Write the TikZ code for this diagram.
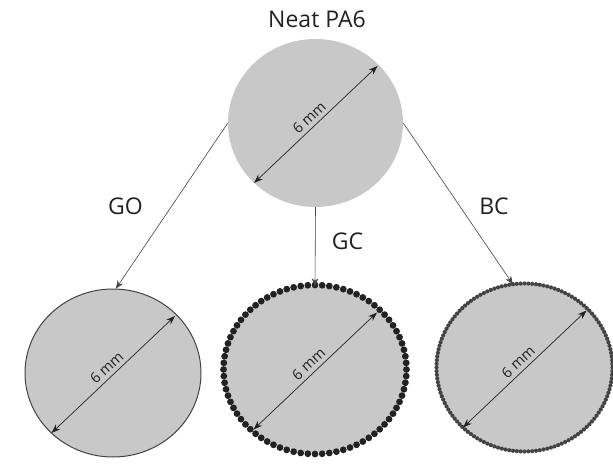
\documentclass[tikz,border=0pt]{standalone}
\usepackage{fontspec}
\setmainfont{Open Sans}
\usetikzlibrary{arrows.meta,calc,shapes.geometric}
\definecolor{fillg}{HTML}{C8C8C8}
\definecolor{txt}{HTML}{222222}
\begin{document}
\begin{tikzpicture}[x=1pt,y=1pt,
  disc/.style={ellipse,fill=fillg,inner sep=0pt},
  conn/.style={draw=txt!85,line width=0.6pt,-{Stealth[length=8pt,width=6.5pt]}},
  dim/.style={draw=txt,line width=0.7pt,{Stealth[length=9pt,width=6.5pt]}-{Stealth[length=9pt,width=6.5pt]}},
  lbl/.style={text=txt,font=\fontsize{23}{26}\selectfont,anchor=base,inner sep=0pt},
  dimlbl/.style={text=txt,font=\fontsize{14.5}{16}\selectfont,rotate=43,anchor=south,inner sep=4pt}]
\useasboundingbox (0,0) rectangle (613,464);
% circles
\node[disc,minimum width=175pt,minimum height=168pt] (top) at (315.5,341) {};
\node[disc,minimum width=176pt,minimum height=168pt,draw=txt!85,line width=1pt] (go) at (113,91) {};
\node[disc,minimum width=180pt,minimum height=166pt] (gc) at (315,94.5) {};
\node[disc,minimum width=176pt,minimum height=168pt] (bc) at (524.5,96.5) {};
% bead rings
\foreach \a in {0,4.5,...,359} \fill[txt] ($(gc.center)+({91.5*cos(\a)},{84.5*sin(\a)})$) circle (3.4);
\foreach \a in {0,2.5,...,359} \fill[txt!85] ($(bc.center)+({88*cos(\a)},{84*sin(\a)})$) circle (2.1);
% title and branch labels
\node[lbl] (title) at (317,436) {Neat PA6};
\node[lbl] (lgo) at (125.5,249) {GO};
\node[lbl] (lgc) at (347.5,214) {GC};
\node[lbl] (lbc) at (494,249) {BC};
% connectors
\draw[conn] (top.west) -- (go.88);
\draw[conn] (top.south) -- (gc.north);
\draw[conn] (top.east) -- (bc.98);
% diameters
\foreach \n in {top,go,gc,bc}{
  \coordinate (\n a) at ($(\n.center)+(-61.5,-60)$);
  \coordinate (\n b) at ($(\n.center)+(62,57)$);
}
\draw[dim] (topa) -- node[dimlbl,pos=0.5] {6 mm} (topb);
\draw[dim] (goa) -- node[dimlbl,pos=0.5] {6 mm} (gob);
\draw[dim] (gca) -- node[dimlbl,pos=0.5] {6 mm} (gcb);
\draw[dim] (bca) -- node[dimlbl,pos=0.5] {6 mm} (bcb);
\end{tikzpicture}
\end{document}
